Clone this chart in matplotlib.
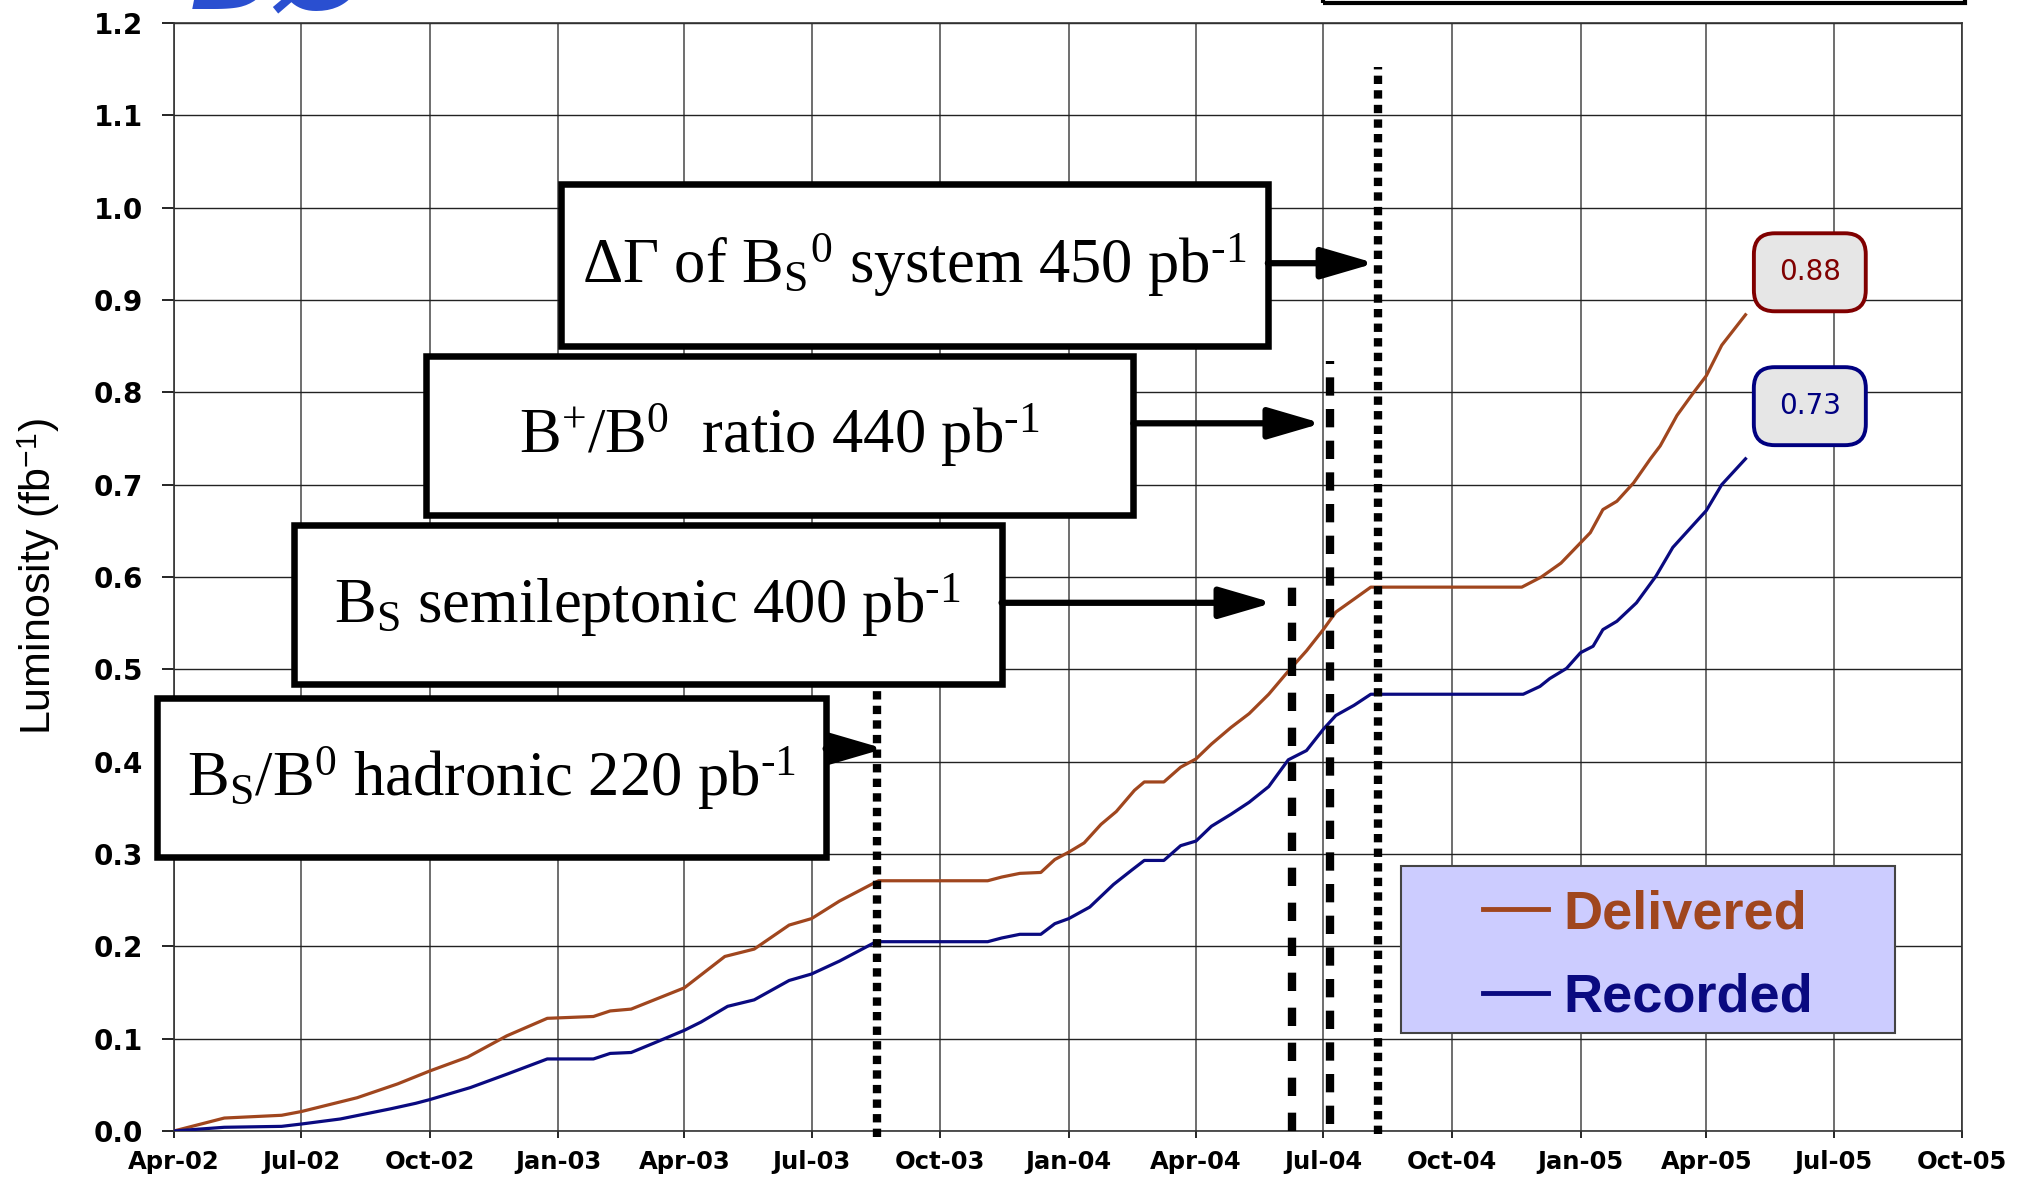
import matplotlib
matplotlib.use('Agg')
import matplotlib.dates as mdates
import matplotlib.pyplot as plt
import pandas as pd
from matplotlib.patches import Rectangle

plt.rcParams['mathtext.fontset'] = 'custom'
plt.rcParams['mathtext.rm'] = 'Liberation Serif'
plt.rcParams['mathtext.it'] = 'Liberation Serif:italic'
plt.rcParams['mathtext.sf'] = 'Liberation Sans'

# integrated luminosity (fb^-1)
delivered_dates = ['2002-04-01', '2002-05-07', '2002-06-17', '2002-07-01', '2002-08-10', '2002-09-08',
                   '2002-10-01', '2002-10-28', '2002-11-25', '2002-12-24', '2003-01-26', '2003-02-07',
                   '2003-02-22', '2003-04-01', '2003-04-30', '2003-05-21', '2003-06-15', '2003-07-01',
                   '2003-07-21', '2003-08-14', '2003-08-18', '2003-11-04', '2003-11-14', '2003-11-27',
                   '2003-12-12', '2003-12-22', '2004-01-01', '2004-01-12', '2004-01-24', '2004-02-04',
                   '2004-02-17', '2004-02-24', '2004-03-09', '2004-03-21', '2004-04-01', '2004-04-12',
                   '2004-04-26', '2004-05-09', '2004-05-23', '2004-06-06', '2004-06-19', '2004-07-01',
                   '2004-07-10', '2004-07-23', '2004-08-04', '2004-11-20', '2004-12-04', '2004-12-18',
                   '2005-01-01', '2005-01-08', '2005-01-17', '2005-01-27', '2005-02-08', '2005-02-20',
                   '2005-02-27', '2005-03-11', '2005-03-22', '2005-04-01', '2005-04-12', '2005-04-29']
delivered = [0.000, 0.014, 0.017, 0.021, 0.036, 0.051,
             0.065, 0.080, 0.103, 0.122, 0.124, 0.130,
             0.132, 0.155, 0.189, 0.197, 0.223, 0.230,
             0.249, 0.268, 0.271, 0.271, 0.275, 0.279,
             0.280, 0.294, 0.302, 0.312, 0.332, 0.346,
             0.369, 0.378, 0.378, 0.394, 0.403, 0.419,
             0.437, 0.452, 0.473, 0.498, 0.520, 0.543,
             0.562, 0.576, 0.589, 0.589, 0.600, 0.615,
             0.637, 0.648, 0.673, 0.682, 0.702, 0.728,
             0.742, 0.775, 0.798, 0.818, 0.851, 0.884]

recorded_dates = ['2002-04-01', '2002-05-07', '2002-06-17', '2002-07-01', '2002-07-29', '2002-09-03',
                  '2002-09-21', '2002-10-01', '2002-10-30', '2002-11-26', '2002-12-24', '2003-01-26',
                  '2003-02-07', '2003-02-22', '2003-03-10', '2003-04-01', '2003-04-13', '2003-05-02',
                  '2003-05-21', '2003-06-15', '2003-07-01', '2003-07-21', '2003-08-15', '2003-08-18',
                  '2003-11-04', '2003-11-14', '2003-11-27', '2003-12-12', '2003-12-22', '2004-01-01',
                  '2004-01-16', '2004-02-02', '2004-02-15', '2004-02-24', '2004-03-09', '2004-03-21',
                  '2004-04-01', '2004-04-12', '2004-04-26', '2004-05-09', '2004-05-23', '2004-06-06',
                  '2004-06-19', '2004-07-01', '2004-07-10', '2004-07-23', '2004-08-04', '2004-11-21',
                  '2004-12-03', '2004-12-10', '2004-12-22', '2005-01-01', '2005-01-10', '2005-01-17',
                  '2005-01-27', '2005-02-10', '2005-02-24', '2005-03-08', '2005-03-20', '2005-04-01',
                  '2005-04-12', '2005-04-29']
recorded = [0.000, 0.004, 0.005, 0.0075, 0.013, 0.024,
            0.030, 0.034, 0.047, 0.062, 0.078, 0.078,
            0.084, 0.085, 0.095, 0.109, 0.118, 0.135,
            0.142, 0.163, 0.170, 0.184, 0.204, 0.205,
            0.205, 0.209, 0.213, 0.213, 0.2245, 0.230,
            0.2425, 0.267, 0.2825, 0.293, 0.293, 0.309,
            0.314, 0.330, 0.343, 0.356, 0.373, 0.402,
            0.412, 0.435, 0.450, 0.461, 0.473, 0.473,
            0.4815, 0.490, 0.501, 0.518, 0.525, 0.543,
            0.552, 0.572, 0.601, 0.632, 0.652, 0.672,
            0.700, 0.728]

# analyses and the date their dataset ends
analysis_labels = ['ΔΓ of B$_{\\mathrm{S}}{}^{0}$ system 450 pb$^{\\text{-1}}$',
                   'B$^{+}$/B$^{0}$  ratio 440 pb$^{\\text{-1}}$',
                   'B$_{\\mathrm{S}}$ semileptonic 400 pb$^{\\text{-1}}$',
                   'B$_{\\mathrm{S}}$/B$^{0}$ hadronic 220 pb$^{\\text{-1}}$']
analysis_dates = ['2004-08-09', '2004-07-06', '2004-06-09', '2003-08-17']

DELIVERED_COLOR = '#A0461E'
RECORDED_COLOR = '#0A0A80'

fig = plt.figure(figsize=(20.25, 11.91), dpi=100)
ax = fig.add_axes([0.0859, 0.0504, 0.969 - 0.0859, 0.9807 - 0.0504])

ax.plot(pd.to_datetime(delivered_dates), delivered, color=DELIVERED_COLOR, lw=2.3, label='Delivered', zorder=3)
ax.plot(pd.to_datetime(recorded_dates), recorded, color=RECORDED_COLOR, lw=2.3, label='Recorded', zorder=3)

ax.set_xlim(pd.Timestamp('2002-04-01'), pd.Timestamp('2005-10-01'))
ax.set_ylim(0, 1.2)
ax.xaxis.set_major_locator(mdates.MonthLocator(bymonth=[1, 4, 7, 10]))
ax.xaxis.set_major_formatter(mdates.DateFormatter('%b-%y'))
ax.set_yticks([i / 10 for i in range(13)])
ax.yaxis.set_major_formatter(plt.FormatStrFormatter('%.1f'))
ax.tick_params(axis='y', direction='out', length=8.5, width=1.2, pad=14, labelsize=20)
ax.tick_params(axis='x', direction='out', length=5, width=1.2, pad=9, labelsize=17.5)
for lbl in ax.get_xticklabels() + ax.get_yticklabels():
    lbl.set_fontweight('bold')
    lbl.set_family('DejaVu Sans')

ax.grid(axis='y', color='#222222', lw=1.0)
ax.grid(axis='x', color='#555555', lw=1.2)
for sp in ax.spines.values():
    sp.set_color('#333333')
    sp.set_linewidth(1.2)

ax.set_ylabel('Luminosity (fb$^{\\mathsf{-1}}$)', family='Liberation Sans', fontsize=31)
ax.yaxis.set_label_coords(-0.0627, 0.5)

# boxes (axes fraction), arrow height and arrow tip date for each analysis
box_extents = [(0.2162, 0.7086, 0.6117, 0.8543),
               (0.1410, 0.5559, 0.5365, 0.6993),
               (0.0672, 0.4033, 0.4628, 0.5466),
               (-0.0094, 0.2471, 0.3644, 0.3904)]
arrow_y = [0.7832, 0.6387, 0.4767, 0.345]
arrow_tips = ['2004-08-07', '2004-06-30', '2004-05-26', '2003-08-22']
line_spans = [(-0.003, 1.152), (0.008, 0.834), (0.0, 0.596), (-0.006, 0.478)]
line_dashes = [(0, (1.0, 0.75)), (0, (2.2, 1.6)), (0, (2.2, 2.0)), (0, (1.0, 0.75))]

for label, date, (x0, y0, x1, y1), ay, tip, (ly0, ly1), dash in zip(
        analysis_labels, analysis_dates, box_extents, arrow_y, arrow_tips, line_spans, line_dashes):
    xd = mdates.date2num(pd.Timestamp(date))
    ax.plot([xd, xd], [ly0, ly1], color='black', lw=6, linestyle=dash,
            dash_capstyle='butt', clip_on=False, zorder=4)
    ax.add_patch(Rectangle((x0, y0), x1 - x0, y1 - y0, transform=ax.transAxes, facecolor='white',
                           edgecolor='black', lw=4.7, clip_on=False, zorder=5))
    ax.text((x0 + x1) / 2, (y0 + y1) / 2, label, transform=ax.transAxes, ha='center', va='center',
            family='Liberation Serif', fontsize=45, zorder=6)
    ax.annotate('', xy=(mdates.date2num(pd.Timestamp(tip)), ay), xycoords=('data', 'axes fraction'),
                xytext=(x1, ay), textcoords='axes fraction', zorder=6,
                arrowprops=dict(arrowstyle='-|>,head_length=1.3,head_width=0.38', color='black',
                                lw=4.5, mutation_scale=25, shrinkA=0, shrinkB=0))

# legend panel
ax.add_patch(Rectangle((0.6862, 0.0886), 0.2762, 0.1503, transform=ax.transAxes, facecolor='#CCCCFF',
                       edgecolor='#444444', lw=1.5, zorder=6))
leg = ax.legend(loc='center', bbox_to_anchor=(0.8243, 0.158), frameon=False, labelcolor='linecolor',
                prop=dict(family='Liberation Sans', weight='bold', size=39),
                handlelength=1.2, handletextpad=0.3, labelspacing=0.62)
leg.set_zorder(7)
for line in leg.get_lines():
    line.set_linewidth(3.5)

# final values, boxed above the end of each curve
for dates, values, color, dy in [(delivered_dates, delivered, '#800000', 0.046),
                                 (recorded_dates, recorded, '#000080', 0.057)]:
    end = pd.Timestamp(dates[-1]) + pd.Timedelta(days=46)
    ax.text(mdates.date2num(end), values[-1] + dy, f'{values[-1]:.2f}', color=color, fontsize=20,
            family='DejaVu Sans', ha='center', va='center', zorder=7,
            bbox=dict(boxstyle='round,pad=0.9,rounding_size=0.75', facecolor='#E6E6E6', edgecolor=color, lw=2.8))

# header pieces above the plot
fig.text(0.0938, 1 - 8 / 1191, 'DØ', color='#2A4FD0', fontsize=77, fontweight='bold', fontstyle='italic',
         va='baseline', ha='left')
fig.add_artist(Rectangle((0.6533, 0.9975), 0.3171, 0.05, transform=fig.transFigure, fill=False,
                         lw=3, edgecolor='black', clip_on=False))

fig.savefig('out.png', dpi=100)
